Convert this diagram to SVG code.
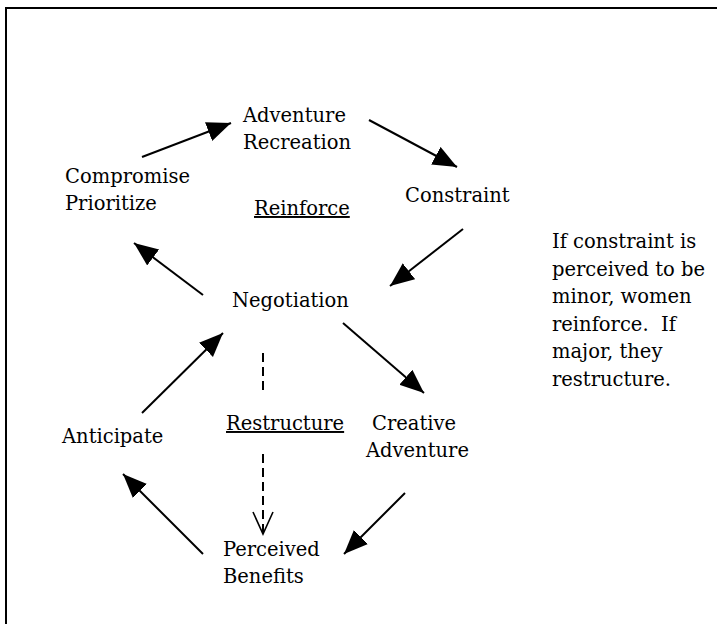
<svg xmlns="http://www.w3.org/2000/svg" width="717" height="624" viewBox="0 0 717 624">
<style>
text{font-family:"DejaVu Serif","Liberation Serif",serif;font-size:19.5px;fill:#000;white-space:pre}
.c{stroke:#000;stroke-width:2;fill:none}
.d{stroke:#000;stroke-width:2;fill:none;stroke-dasharray:9,5}
</style>
<defs>
<marker id="ah" markerUnits="userSpaceOnUse" markerWidth="26" markerHeight="22" refX="24" refY="10" orient="auto" viewBox="0 0 26 22">
<path d="M0,0 L24,10 L0,20 z" fill="#000"/>
</marker>
<marker id="oh" markerUnits="userSpaceOnUse" markerWidth="24" markerHeight="24" refX="22" refY="11" orient="auto" viewBox="0 0 24 24" overflow="visible">
<path d="M0,1 L22,11 L0,21" fill="none" stroke="#000" stroke-width="1.6"/>
</marker>
</defs>
<path d="M6,624 L6,8 L717,8" fill="none" stroke="#000" stroke-width="2"/>
<g id="adventure-recreation"><text x="243" y="122">Adventure</text><text x="243" y="149">Recreation</text></g>
<g id="compromise-prioritize"><text x="65" y="183">Compromise</text><text x="65" y="210">Prioritize</text></g>
<g id="reinforce"><text x="254" y="215" text-decoration="underline">Reinforce</text></g>
<g id="constraint"><text x="405" y="202">Constraint</text></g>
<g id="note"><text x="552" y="248">If constraint is</text><text x="552" y="276">perceived to be</text><text x="552" y="303">minor, women</text><text x="552" y="331" xml:space="preserve">reinforce.  If</text><text x="552" y="358">major, they</text><text x="552" y="386">restructure.</text></g>
<g id="negotiation"><text x="232" y="307">Negotiation</text></g>
<g id="restructure"><text x="226" y="430" text-decoration="underline">Restructure</text></g>
<g id="anticipate"><text x="62" y="443">Anticipate</text></g>
<g id="creative-adventure"><text x="372" y="430">Creative</text><text x="366" y="457">Adventure</text></g>
<g id="perceived-benefits"><text x="223" y="556">Perceived</text><text x="223" y="583">Benefits</text></g>
<g id="connectors">
<line class="c" x1="142" y1="157" x2="231" y2="123" marker-end="url(#ah)"/>
<line class="c" x1="369" y1="120" x2="457" y2="167" marker-end="url(#ah)"/>
<line class="c" x1="463" y1="229" x2="390" y2="286" marker-end="url(#ah)"/>
<line class="c" x1="343" y1="323" x2="424" y2="393" marker-end="url(#ah)"/>
<line class="c" x1="203" y1="295" x2="134" y2="243" marker-end="url(#ah)"/>
<line class="c" x1="142" y1="413" x2="223" y2="333" marker-end="url(#ah)"/>
<line class="c" x1="203" y1="554" x2="123" y2="474" marker-end="url(#ah)"/>
<line class="c" x1="405" y1="493" x2="344" y2="554" marker-end="url(#ah)"/>
<line class="d" x1="263" y1="353" x2="263" y2="392"/>
<line class="d" x1="263" y1="454" x2="263" y2="534" marker-end="url(#oh)"/>
</g>
</svg>
